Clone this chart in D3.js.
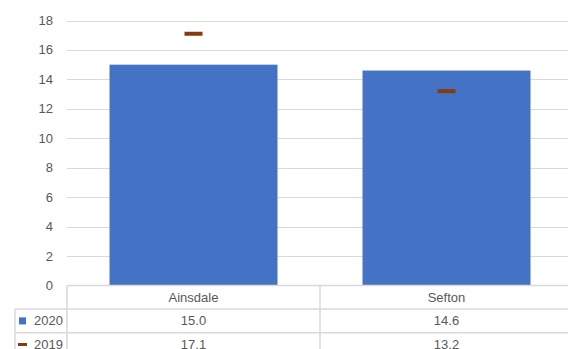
<!DOCTYPE html>
<html><head><meta charset="utf-8">
<script src="https://cdn.jsdelivr.net/npm/d3@7"></script>
<style>body{margin:0;background:#fff}svg{display:block}text{font-family:"Liberation Sans",Arial,sans-serif;fill:#595959}</style>
</head><body>
<svg id="c" width="568" height="349"></svg>
<script>
const categories = ["Ainsdale", "Sefton"];
const series2020 = [15.0, 14.6];
const series2019 = [17.1, 13.2];
const seriesNames = ["2020", "2019"];
const yTicks = [0, 2, 4, 6, 8, 10, 12, 14, 16, 18];

(function () {
const svg = d3.select("#c");
const pLeft = 67, pRight = 573, pTop = 20.5, pBottom = 285.5;
const x = d3.scaleBand().domain(categories).range([pLeft, pRight]);
const y = d3.scaleLinear().domain([0, 18]).range([pBottom, pTop]);

// gridlines
svg.append("g").selectAll("line").data(yTicks.filter(d => d > 0)).join("line")
  .attr("x1", pLeft).attr("x2", 568).attr("y1", d => Math.round(y(d)) + 0.5).attr("y2", d => Math.round(y(d)) + 0.5)
  .attr("stroke", "#d9d9d9").attr("stroke-width", 1);

// y labels
svg.append("g").selectAll("text").data(yTicks).join("text")
  .attr("x", 53).attr("y", d => y(d) + 4.5).attr("text-anchor", "end")
  .attr("font-size", 13).text(d => d);

// bars
const bw = x.bandwidth() * 0.664;
svg.append("g").selectAll("rect").data(categories).join("rect")
  .attr("x", d => x(d) + (x.bandwidth() - bw) / 2).attr("width", bw)
  .attr("y", (d, i) => y(series2020[i])).attr("height", (d, i) => pBottom - y(series2020[i]))
  .attr("fill", "#4472c4");

// 2019 markers
svg.append("g").selectAll("rect").data(categories).join("rect")
  .attr("x", d => x(d) + x.bandwidth() / 2 - 9).attr("width", 18)
  .attr("y", (d, i) => y(series2019[i]) - 2).attr("height", 4)
  .attr("fill", "#843c0c");

// data table
const rowH = 23.6;
const tableTop = pBottom;
const tc = "#d9d9d9";
const tg = svg.append("g");
[0, 1, 2].forEach(r => {
  tg.append("line").attr("x1", r === 0 ? pLeft : 15).attr("x2", 568)
    .attr("y1", tableTop + r * rowH).attr("y2", tableTop + r * rowH)
    .attr("stroke", tc).attr("stroke-width", 1.5);
});
tg.append("line").attr("x1", pLeft).attr("x2", pLeft).attr("y1", tableTop).attr("y2", 349).attr("stroke", tc).attr("stroke-width", 1.5);
tg.append("line").attr("x1", x("Sefton")).attr("x2", x("Sefton")).attr("y1", tableTop).attr("y2", 349).attr("stroke", tc).attr("stroke-width", 1.5);
tg.append("line").attr("x1", 15).attr("x2", 15).attr("y1", tableTop + rowH).attr("y2", 349).attr("stroke", tc).attr("stroke-width", 1.5);

tg.selectAll("text.cat").data(categories).join("text").attr("class", "cat")
  .attr("x", d => x(d) + x.bandwidth() / 2).attr("y", tableTop + rowH / 2 + 4.5)
  .attr("text-anchor", "middle").attr("font-size", 13).text(d => d);

const rows = [series2020, series2019];
rows.forEach((vals, r) => {
  const cy = tableTop + (r + 1) * rowH + rowH / 2;
  tg.selectAll("text.v" + r).data(vals).join("text").attr("class", "v" + r)
    .attr("x", (d, i) => x(categories[i]) + x.bandwidth() / 2).attr("y", cy + 4.5)
    .attr("text-anchor", "middle").attr("font-size", 13).text(d => d3.format(".1f")(d));
  tg.append("text").attr("x", 63).attr("y", cy + 4.5).attr("text-anchor", "end")
    .attr("font-size", 13).text(seriesNames[r]);
  if (r === 0) {
    tg.append("rect").attr("x", 19).attr("y", cy - 3.5).attr("width", 7).attr("height", 7).attr("fill", "#4472c4");
  } else {
    tg.append("rect").attr("x", 18).attr("y", cy - 1.5).attr("width", 9).attr("height", 3).attr("fill", "#843c0c");
  }
});
})();
</script>
</body></html>
